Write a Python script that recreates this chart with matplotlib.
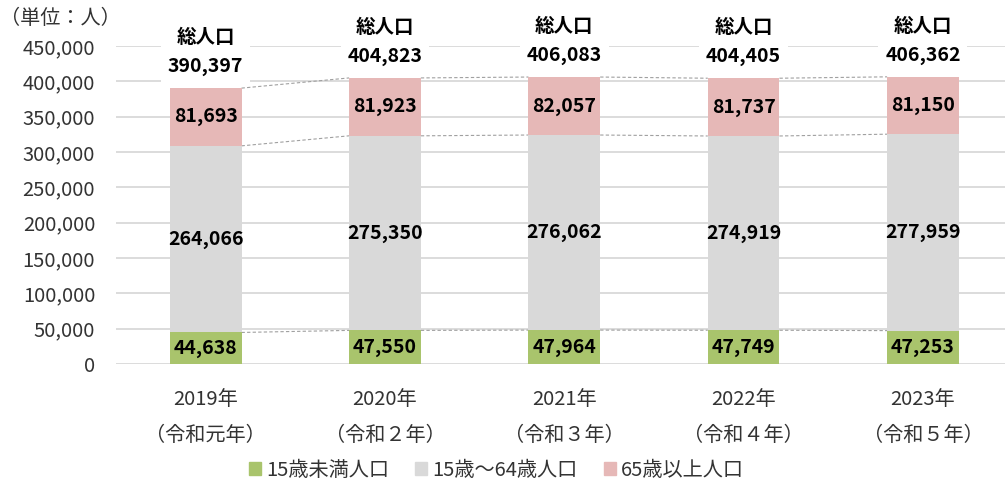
import matplotlib
matplotlib.use("Agg")
import matplotlib.pyplot as plt
from matplotlib.patches import Patch
import numpy as np

plt.rcParams['font.family'] = ['Noto Sans CJK JP', 'DejaVu Sans']

categories = ["2019年\n（令和元年）", "2020年\n（令和２年）", "2021年\n（令和３年）",
              "2022年\n（令和４年）", "2023年\n（令和５年）"]
under15 = [44638, 47550, 47964, 47749, 47253]
age15_64 = [264066, 275350, 276062, 274919, 277959]
over65 = [81693, 81923, 82057, 81737, 81150]
totals = [390397, 404823, 406083, 404405, 406362]
series_names = ["15歳未満人口", "15歳～64歳人口", "65歳以上人口"]
yticks = [0, 50000, 100000, 150000, 200000, 250000, 300000, 350000, 400000, 450000]

colors = ["#A9C46C", "#D9D9D9", "#E6B8B7"]
text_col = "#333333"
tick_fs = 14.5
lab_fs = 14

W, H = 1005, 482
fig = plt.figure(figsize=(W / 100, H / 100), dpi=100)
left_px, right_px, top_px, bot_px = 116, 1005, 46, 364
ax = fig.add_axes([left_px / W, 1 - bot_px / H, (right_px - left_px) / W, (bot_px - top_px) / H])

x = np.arange(len(categories))
bw = 0.4
series = [under15, age15_64, over65]
bottoms = np.zeros(len(categories))
cums = []
for vals, c in zip(series, colors):
    vals = np.array(vals)
    ax.bar(x, vals, bw, bottom=bottoms, color=c, zorder=2)
    for xi, b, v in zip(x, bottoms, vals):
        ax.text(xi, b + v / 2, f"{v:,}", ha='center', va='center', fontsize=lab_fs,
                fontweight='bold', color='black', zorder=4)
    bottoms = bottoms + vals
    cums.append(bottoms.copy())

# connector dashed lines
for cum in cums:
    for i in range(len(categories) - 1):
        ax.plot([x[i] + bw / 2, x[i + 1] - bw / 2], [cum[i], cum[i + 1]],
                ls=(0, (3, 2)), lw=0.8, color='#A0A0A0', zorder=1.5)

# total labels
for xi, t in zip(x, totals):
    ax.annotate(f"総人口\n{t:,}", xy=(xi, t), xytext=(0, 8.5), textcoords='offset points',
                ha='center', va='bottom', fontsize=lab_fs, fontweight='bold', color='black',
                linespacing=1.65, annotation_clip=False, zorder=3,
                bbox=dict(boxstyle='square,pad=0.35', fc='white', ec='none'))

ax.set_ylim(0, 450000)
ax.set_xlim(-0.5, 4.5 - (1012.6 - 1005) / 179.25)
ax.set_yticks(yticks)
ax.set_yticklabels([f"{v:,}" for v in yticks])
ax.set_xticks(x)
ax.set_xticklabels(categories, linespacing=1.95)
ax.tick_params(axis='both', length=0, labelsize=tick_fs, colors=text_col)
ax.tick_params(axis='x', pad=18)
ax.tick_params(axis='y', pad=15)
for s in ax.spines.values():
    s.set_visible(False)
ax.grid(axis='y', color='#D9D9D9', lw=1.3, zorder=0)
ax.set_axisbelow(True)

fig.text(0 / W, 1 - 18 / H, "（単位：人）", ha='left', va='center', fontsize=tick_fs, color=text_col)

handles = [Patch(color=c) for c in colors]
fig.legend(handles, series_names, loc='center', bbox_to_anchor=(0.494, 1 - 470 / H),
           ncol=3, frameon=False, fontsize=tick_fs, handlelength=0.6, handleheight=0.6,
           handletextpad=0.25, columnspacing=1.3, labelcolor=text_col, borderpad=0.1)

fig.savefig("out.png", dpi=100)
